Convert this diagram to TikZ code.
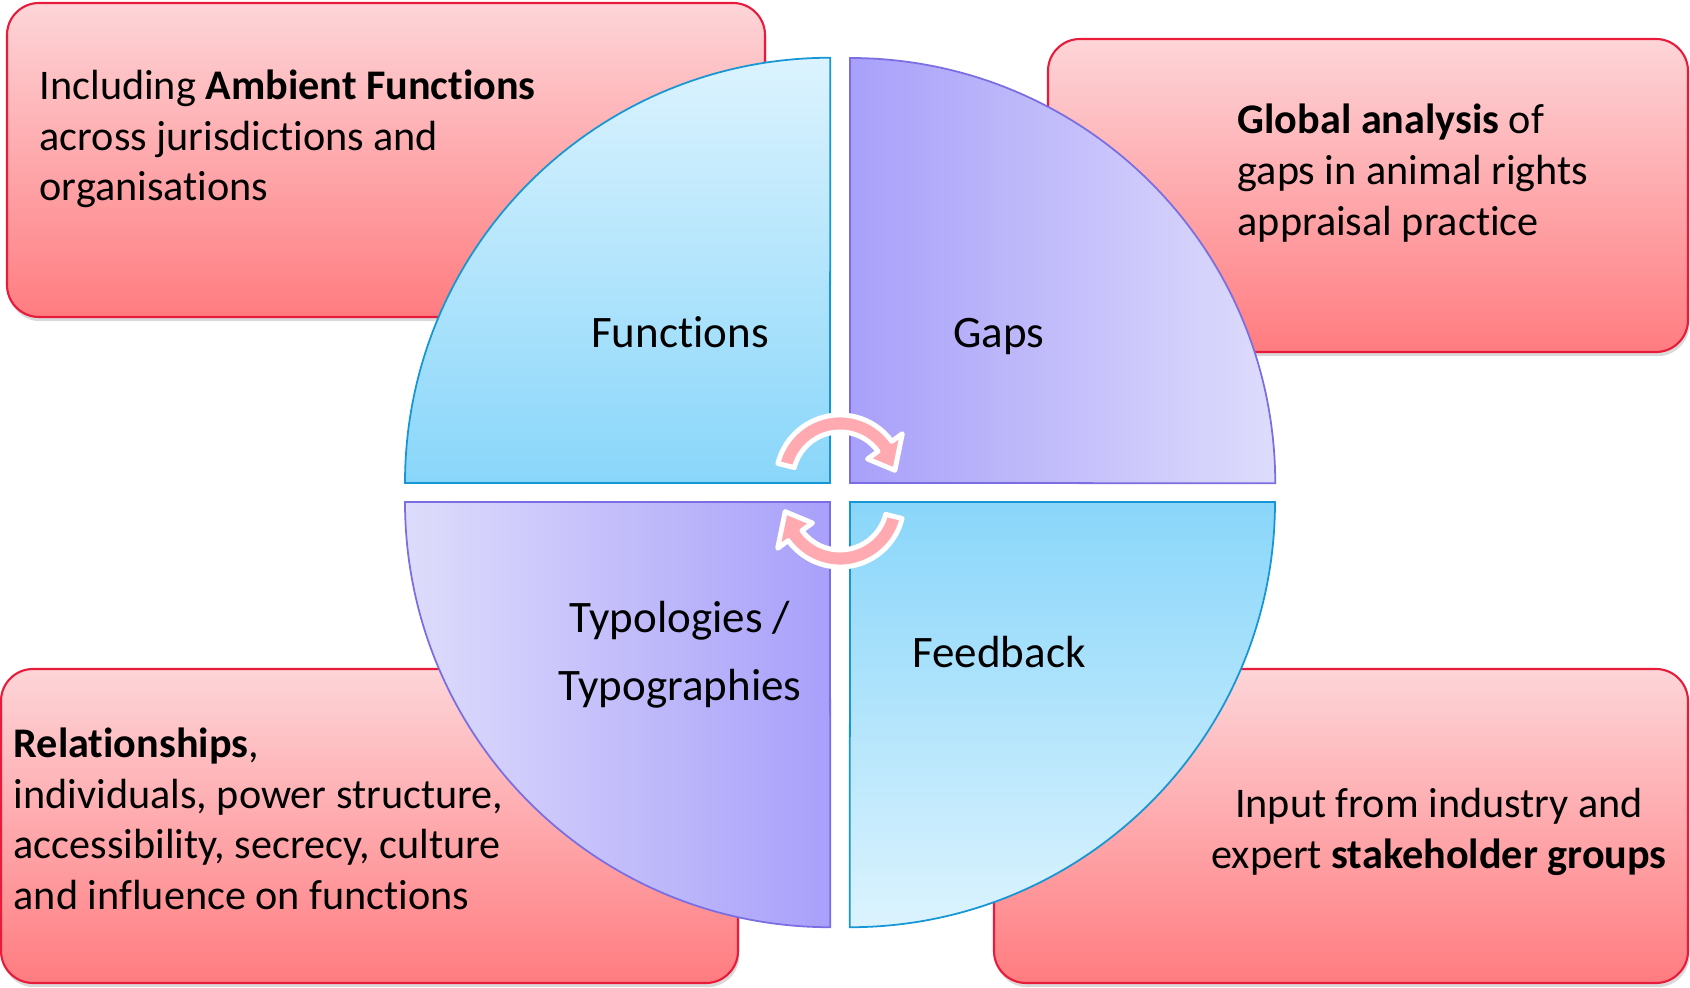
\documentclass[tikz,border=0pt]{standalone}
\usepackage{fontspec}
\setmainfont{Carlito}[Ligatures=NoCommon]
\usetikzlibrary{calc,shadows}
\definecolor{boxtop}{RGB}{253,213,216}
\definecolor{boxbot}{RGB}{255,124,128}
\definecolor{boxline}{RGB}{232,28,58}
\definecolor{bluelight}{RGB}{220,243,254}
\definecolor{bluedark}{RGB}{137,214,250}
\definecolor{blueline}{RGB}{22,150,212}
\definecolor{purpdark}{RGB}{168,160,250}
\definecolor{purplight}{RGB}{222,220,251}
\definecolor{purpline}{RGB}{122,110,226}
\definecolor{arrowpink}{RGB}{255,170,176}
\tikzset{
 infobox/.style={draw=boxline, line width=0.6pt, rounded corners=0.32cm, top color=boxtop, bottom color=boxbot,
   drop shadow={shadow xshift=0.4pt, shadow yshift=-1.2pt, opacity=0.3}},
 boxtext/.style={inner sep=0pt, align=left, font=\fontsize{12}{14.4}\selectfont},
 quadlabel/.style={inner sep=0pt, align=center, font=\fontsize{12.8}{19.3}\selectfont},
 bluequad/.style={draw=blueline, line width=0.5pt},
 purpquad/.style={draw=purpline, line width=0.5pt},
 cyclearrow/.style={fill=arrowpink, draw=white, line width=1.4pt, line join=round},
}
\begin{document}
\begin{tikzpicture}[x=0.01cm, y=0.01cm]
\useasboundingbox (0,0) rectangle (1690,988);
% boxes
\path[infobox] (7,671) rectangle (765,985);
\path[infobox] (1048,636) rectangle (1688,949);
\path[infobox] (1,5) rectangle (738,319);
\path[infobox] (994,5) rectangle (1688,319);
% box texts
\node[boxtext, anchor=west] (tltext) at (39,849) {Including \textbf{Ambient Functions}\\across jurisdictions and\\organisations};
\node[boxtext, anchor=west] (trtext) at (1237,815) {\textbf{Global analysis} of\\gaps in animal rights\\appraisal practice};
\node[boxtext, anchor=west] (bltext) at (13,169) {\textbf{Relationships},\\individuals, power structure,\\accessibility, secrecy, culture\\and influence on functions};
\node[boxtext, align=center] (brtext) at (1439,156) {Input from industry and\\expert \textbf{stakeholder groups}};
% quadrants
\path[bluequad, top color=bluelight, bottom color=bluedark] (830,505) -- (405,505) arc[start angle=180, end angle=90, radius=4.25cm] -- cycle;
\path[purpquad, left color=purpdark, right color=purplight] (850,505) -- (850,930) arc[start angle=90, end angle=0, radius=4.25cm] -- cycle;
\path[purpquad, left color=purplight, right color=purpdark] (830,486) -- (405,486) arc[start angle=180, end angle=270, radius=4.25cm] -- cycle;
\path[bluequad, top color=bluedark, bottom color=bluelight] (850,486) -- (1275,486) arc[start angle=0, end angle=-90, radius=4.25cm] -- cycle;
% labels
\node[quadlabel] (functions) at (680,656) {Functions};
\node[quadlabel] (gaps) at (999,651) {Gaps};
\node[quadlabel] (typologies) at (680,333) {Typologies /\\Typographies};
\node[quadlabel] (feedback) at (999,336) {Feedback};
% cycle arrows
\coordinate (c1) at (840,509);
\coordinate (c2) at (840,485);
\path[cyclearrow] ($(c1)+(166:0.64cm)$) arc[start angle=166, end angle=36, radius=0.64cm]
  -- ($(c1)+(36:0.77cm)$) -- ($(c1)+(9:0.555cm)$) -- ($(c1)+(36:0.34cm)$)
  -- ($(c1)+(36:0.47cm)$) arc[start angle=36, end angle=166, radius=0.47cm] -- cycle;
\path[cyclearrow] ($(c2)+(-14:0.64cm)$) arc[start angle=-14, end angle=-144, radius=0.64cm]
  -- ($(c2)+(-144:0.77cm)$) -- ($(c2)+(-171:0.555cm)$) -- ($(c2)+(-144:0.34cm)$)
  -- ($(c2)+(-144:0.47cm)$) arc[start angle=-144, end angle=-14, radius=0.47cm] -- cycle;
\end{tikzpicture}
\end{document}
